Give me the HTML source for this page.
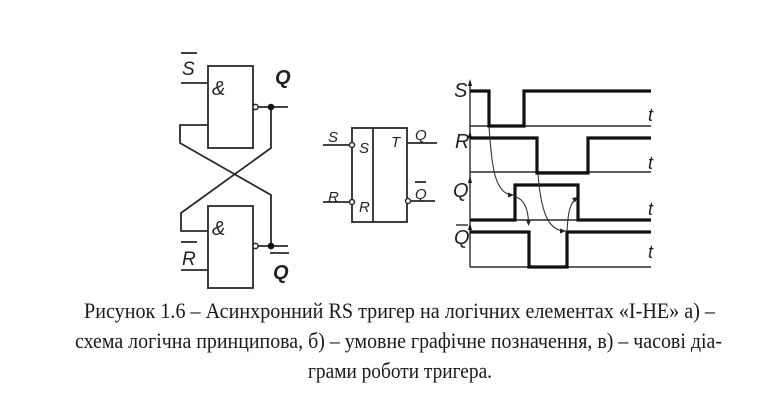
<!DOCTYPE html>
<html>
<head>
<meta charset="utf-8">
<style>
html,body{margin:0;padding:0;background:#fff;}
svg{display:block;}
.lbl{font-family:"Liberation Sans",sans-serif;font-style:italic;fill:#1f1f2a;}
.cap{font-family:"Liberation Serif","Noto Serif CJK SC",serif;fill:#1a1a1a;font-size:22px;}
</style>
</head>
<body>
<svg width="768" height="419" viewBox="0 0 768 419" xmlns="http://www.w3.org/2000/svg">
<rect width="768" height="419" fill="#fff"/>

<!-- ===== a) logic circuit ===== -->
<g stroke="#2a2a2a" stroke-width="1.8" fill="none">
  <rect x="208" y="66" width="45" height="82"/>
  <rect x="208" y="206" width="45" height="82"/>
  <line x1="181" y1="83" x2="208" y2="83"/>
  <line x1="181" y1="270" x2="208" y2="270"/>
  <line x1="258" y1="107" x2="288" y2="107"/>
  <line x1="258" y1="246" x2="288" y2="246"/>
  <polyline points="271,107 271,148 181,213 181,231 208,231"/>
  <polyline points="208,125 180,125 180,143 271,195 271,246"/>
  <line x1="181" y1="53" x2="197" y2="53"/>
  <line x1="181" y1="242" x2="197" y2="242"/>
  <line x1="270" y1="253" x2="289" y2="253"/>
</g>
<circle cx="255.5" cy="107" r="2.6" fill="#fff" stroke="#2a2a2a" stroke-width="1.5"/>
<circle cx="255.5" cy="246" r="2.6" fill="#fff" stroke="#2a2a2a" stroke-width="1.5"/>
<circle cx="271" cy="107" r="3.3" fill="#111"/>
<circle cx="271" cy="246" r="3.3" fill="#111"/>
<text class="lbl" x="182" y="75" font-size="19">S</text>
<text class="lbl" x="275" y="84" font-size="20" font-weight="bold">Q</text>
<text class="lbl" x="212" y="95" font-size="20">&amp;</text>
<text class="lbl" x="212" y="235" font-size="20">&amp;</text>
<text class="lbl" x="182" y="265" font-size="19">R</text>
<text class="lbl" x="273" y="279" font-size="20" font-weight="bold">Q</text>

<!-- ===== b) symbol ===== -->
<g stroke="#2a2a2a" stroke-width="1.8" fill="none">
  <rect x="352" y="128" width="55" height="94"/>
  <line x1="373" y1="128" x2="373" y2="222"/>
  <line x1="323" y1="145" x2="350" y2="145"/>
  <line x1="323" y1="202" x2="350" y2="202"/>
  <line x1="407" y1="143" x2="437" y2="143"/>
  <line x1="410.5" y1="201" x2="435" y2="201"/>
  <line x1="415" y1="182" x2="426" y2="182"/>
</g>
<circle cx="352" cy="145" r="2.5" fill="#fff" stroke="#2a2a2a" stroke-width="1.5"/>
<circle cx="352" cy="202" r="2.5" fill="#fff" stroke="#2a2a2a" stroke-width="1.5"/>
<circle cx="408" cy="201" r="2.5" fill="#fff" stroke="#2a2a2a" stroke-width="1.5"/>
<text class="lbl" x="328" y="142" font-size="15">S</text>
<text class="lbl" x="328" y="202" font-size="15">R</text>
<text class="lbl" x="359" y="153" font-size="15">S</text>
<text class="lbl" x="359" y="212" font-size="15">R</text>
<text class="lbl" x="391" y="147" font-size="15">T</text>
<text class="lbl" x="415" y="140" font-size="15">Q</text>
<text class="lbl" x="415" y="199" font-size="15">Q</text>

<!-- ===== c) timing diagrams ===== -->
<g stroke="#2a2a2a" stroke-width="1.4" fill="none">
  <line x1="470" y1="82" x2="470" y2="267"/>
  <line x1="470" y1="126" x2="651" y2="126"/>
  <line x1="470" y1="172" x2="651" y2="172"/>
  <line x1="470" y1="220" x2="651" y2="220"/>
  <line x1="470" y1="267" x2="651" y2="267"/>
  <line x1="456" y1="225" x2="468" y2="225"/>
</g>
<g fill="#111">
  <polygon points="470,79 468,86 472,86"/>
  <polygon points="470,131 468,138 472,138"/>
  <polygon points="470,176 468,183 472,183"/>
  <polygon points="470,223 468,230 472,230"/>
</g>
<g stroke="#111" stroke-width="3.2" fill="none" stroke-linejoin="miter">
  <polyline points="470,91 489,91 489,126 524,126 524,91 651,91"/>
  <polyline points="470,138 537,138 537,173 588,173 588,138 651,138"/>
  <polyline points="470,220 515,220 515,185 578,185 578,220 651,220"/>
  <polyline points="470,232 529,232 529,267 567,267 567,232 651,232"/>
</g>
<g stroke="#333" stroke-width="1.1" fill="none">
  <path d="M489,127 C492,165 494,192 511,195"/>
  <path d="M516,197 C525,200 528,210 528.5,222"/>
  <path d="M538,174 C541,212 548,229 563,231"/>
  <path d="M567,232 C568,212 570,203 576,199"/>
</g>
<g fill="#222">
  <polygon points="514,195 508,192.5 508,197.5"/>
  <polygon points="528.5,226 526,220 531,220"/>
  <polygon points="566,231 560,228.5 560,233.5"/>
  <polygon points="578,197 572,198 575,202.5"/>
</g>
<text class="lbl" x="454" y="97" font-size="20">S</text>
<text class="lbl" x="455" y="148" font-size="20">R</text>
<text class="lbl" x="453" y="197" font-size="20">Q</text>
<text class="lbl" x="454" y="244" font-size="20">Q</text>
<text class="lbl" x="648" y="121" font-size="18">t</text>
<text class="lbl" x="648" y="169" font-size="18">t</text>
<text class="lbl" x="648" y="215" font-size="18">t</text>
<text class="lbl" x="648" y="258" font-size="18">t</text>

<!-- ===== caption ===== -->
<text class="cap" x="84" y="318" textLength="631" lengthAdjust="spacingAndGlyphs">Рисунок 1.6 – Асинхронний RS тригер на логічних елементах «І-НЕ» а) –</text>
<text class="cap" x="75" y="348" textLength="647" lengthAdjust="spacingAndGlyphs">схема логічна принципова, б) – умовне графічне позначення, в) – часові діа-</text>
<text class="cap" x="308" y="378" textLength="184" lengthAdjust="spacingAndGlyphs">грами роботи тригера.</text>
</svg>
</body>
</html>
